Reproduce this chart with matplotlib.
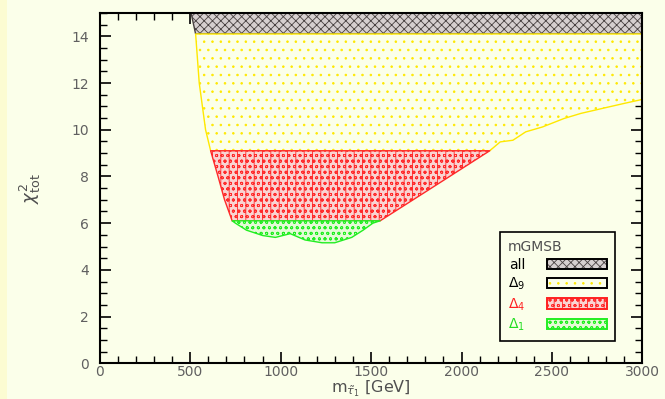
import numpy as np
import matplotlib.pyplot as plt
from matplotlib.patches import Patch, Rectangle
from matplotlib.legend_handler import HandlerTuple
from matplotlib.ticker import MultipleLocator

# minimum chi2_tot as a function of the stau mass
m_stau = [505, 530, 550, 585, 613, 654, 690, 732,
          750, 811, 901, 971, 1053, 1135, 1229, 1299, 1393, 1456, 1510, 1550,
          1793, 2027, 2156, 2214, 2284, 2355, 2448, 2566, 2660, 2777, 2895, 3000]
chi2_min = [15.0, 14.1, 12.0, 10.0, 9.1, 8.0, 7.0, 6.1,
            6.0, 5.70, 5.47, 5.39, 5.55, 5.28, 5.16, 5.16, 5.39, 5.70, 6.0, 6.1,
            7.30, 8.46, 9.1, 9.48, 9.55, 9.91, 10.12, 10.48, 10.70, 10.91, 11.12, 11.30]

# band edges: chi2 best + delta
levels = [0.0, 6.1, 9.1, 14.1, 15.0]
band_names = ['$\\Delta_1$', '$\\Delta_4$', '$\\Delta_9$', 'all']
band_colors = ['#22ee22', '#ff2a2a', '#ffe800', '#484040']
band_faces = ['#e4fad6', '#f9d4d2', '#fbffea', '#d6cfcf']
band_hatch = ['ooo', '||ooo', '..', 'xxxx']
label_colors = ['#22dd22', '#ff2020', 'black', 'black']
legend_edges = ['#22ee22', '#ff2020', 'black', 'black']

bg = '#fbffea'
plt.rcParams['font.family'] = ['DejaVu Sans']
plt.rcParams['hatch.linewidth'] = 0.6

fig = plt.figure(figsize=(6.65, 3.99), dpi=100, facecolor=bg)
fig.patches.append(Rectangle((0, 0), 7 / 665, 1, transform=fig.transFigure,
                             facecolor='#fcfcd2', edgecolor='none', zorder=0))
ax = fig.add_axes([0.150, 0.0895, 0.816, 0.878])
ax.set_facecolor(bg)

m = np.array(m_stau, dtype=float)
c = np.array(chi2_min, dtype=float)

# draw from the top band down so lower bands' edges sit on top
for i in [3, 2, 1, 0]:
    lo, hi = levels[i], levels[i + 1]
    ax.fill_between(m, np.maximum(c, lo), hi, where=c <= hi, interpolate=True,
                    facecolor=band_faces[i], edgecolor=band_colors[i],
                    hatch=band_hatch[i], linewidth=1.0, zorder=2)

ax.set_xlim(0, 3000)
ax.set_ylim(0, 15)
ax.xaxis.set_major_locator(MultipleLocator(500))
ax.xaxis.set_minor_locator(MultipleLocator(100))
ax.yaxis.set_major_locator(MultipleLocator(2))
ax.yaxis.set_minor_locator(MultipleLocator(0.5))
ax.tick_params(which='both', direction='in', top=True, right=True,
               colors='black', labelcolor='#606060', labelsize=10)
ax.tick_params(which='major', length=8, width=1.2)
ax.tick_params(which='minor', length=5, width=1.0)
ax.tick_params(axis='x', pad=1)
ax.tick_params(axis='y', pad=8)
for s in ax.spines.values():
    s.set_linewidth(1.5)

ax.set_xlabel('m$_{\\tilde{\\tau}_1}$ [GeV]', fontsize=11.5, color='#505050', labelpad=0)
ax.set_ylabel('$\\chi^2_{\\rm tot}$', fontsize=13, color='#505050', labelpad=20)

handles = []
labels = []
for i in [3, 2, 1, 0]:
    hatch_part = Patch(facecolor=band_faces[i], edgecolor=band_colors[i],
                       hatch=band_hatch[i], linewidth=0)
    frame_part = Patch(fill=False, edgecolor=legend_edges[i], linewidth=1.4)
    handles.append((hatch_part, frame_part))
    labels.append(band_names[i])
leg = ax.legend(handles, labels, handler_map={tuple: HandlerTuple(ndivide=1, pad=0)},
                loc='upper left', bbox_to_anchor=(0.737, 0.375), borderaxespad=0,
                title='mGMSB', alignment='left', markerfirst=False, fancybox=False,
                facecolor=bg, edgecolor='black', framealpha=1, fontsize=10,
                title_fontsize=10, handlelength=4.3, handleheight=0.75,
                borderpad=0.6, labelspacing=0.28, handletextpad=1.6)
leg.get_frame().set_linewidth(1.2)
leg.get_title().set_color('#505050')
for t, col in zip(leg.get_texts(), [label_colors[3], label_colors[2], label_colors[1], label_colors[0]]):
    t.set_color(col)

fig.savefig('out.png', dpi=100, facecolor=bg)
